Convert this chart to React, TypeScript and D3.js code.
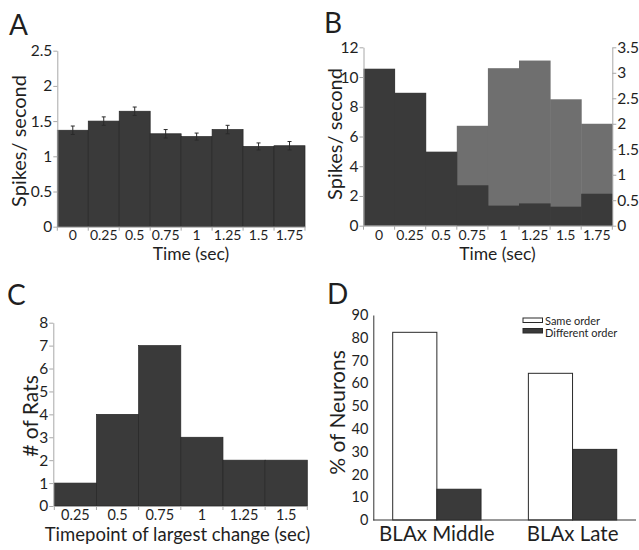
import React, { useEffect, useRef } from 'react';
import * as d3 from 'd3';

// panel A: mean firing rate per time bin
const timeBins = ['0', '0.25', '0.5', '0.75', '1', '1.25', '1.5', '1.75'];
const rateA = [1.37, 1.5, 1.64, 1.32, 1.28, 1.38, 1.14, 1.15];
const errA = [0.06, 0.06, 0.06, 0.06, 0.05, 0.06, 0.05, 0.06];

// panel B: two neurons, left axis (dark) and right axis (light)
const rateBLeft = [10.56, 8.94, 4.98, 2.72, 1.35, 1.5, 1.28, 2.15];
const rateBRight: (number | null)[] = [null, null, null, 1.96, 3.09, 3.24, 2.48, 2.0];

// panel C: histogram of timepoints
const changeBins = ['0.25', '0.5', '0.75', '1', '1.25', '1.5'];
const ratCounts = [1, 4, 7, 3, 2, 2];

// panel D: percent of neurons
const groupsD = ['BLAx Middle', 'BLAx Late'];
const seriesD = ['Same order', 'Different order'];
const sameOrder = [82.4, 64.4];
const diffOrder = [13.5, 31.0];

const FONT = 'Lato, "Open Sans", sans-serif';
const DARK = '#3a3a3a';
const LIGHT = '#6f6f6f';
const INK = '#1f1f1f';
const GRID = '#a8a8a8';

function styleAxis(g: any, lineColor: string, size: number) {
  g.select('.domain').attr('stroke', lineColor);
  g.selectAll('.tick line').attr('stroke', lineColor);
  g.selectAll('.tick text').attr('fill', INK).style('font-size', size + 'px').style('font-family', FONT);
}

function bandTicks(g: any, x: any, bins: string[], y0: number, color: string) {
  const pos = bins.map(b => x(b)).concat([x(bins[bins.length - 1]) + x.bandwidth()]);
  g.append('g').selectAll('line').data(pos).enter().append('line')
    .attr('x1', d => d).attr('x2', d => d)
    .attr('y1', y0).attr('y2', y0 + 4)
    .attr('stroke', color);
}

function label(svg: any, text: string, x: number, y: number, size: number, rotate = false, anchor = 'middle') {
  svg.append('text')
    .attr('transform', `translate(${x},${y})` + (rotate ? ' rotate(-90)' : ''))
    .attr('text-anchor', anchor)
    .attr('fill', INK)
    .style('font-family', FONT)
    .style('font-size', size + 'px')
    .text(text);
}

function drawA(svg: any) {
  const left = 57.3, right = 305, top = 50.7, bottom = 226.7;
  const x = d3.scaleBand().domain(timeBins).range([left, right]);
  const y = d3.scaleLinear().domain([0, 2.5]).range([bottom, top]);
  const g = svg.append('g');

  g.append('g').selectAll('rect').data(rateA).enter().append('rect')
    .attr('x', (d, i) => x(timeBins[i]))
    .attr('width', x.bandwidth())
    .attr('y', d => y(d))
    .attr('height', d => bottom - y(d))
    .attr('fill', DARK)
    .attr('stroke', '#262626')
    .attr('stroke-width', 0.7);

  // error bars
  const eb = g.append('g').selectAll('g').data(rateA).enter().append('g')
    .attr('stroke', '#2a2a2a').attr('stroke-width', 1);
  eb.append('line')
    .attr('x1', (d, i) => x(timeBins[i]) + x.bandwidth() / 2)
    .attr('x2', (d, i) => x(timeBins[i]) + x.bandwidth() / 2)
    .attr('y1', (d, i) => y(d - errA[i]))
    .attr('y2', (d, i) => y(d + errA[i]));
  eb.append('line')
    .attr('x1', (d, i) => x(timeBins[i]) + x.bandwidth() / 2 - 2)
    .attr('x2', (d, i) => x(timeBins[i]) + x.bandwidth() / 2 + 2)
    .attr('y1', (d, i) => y(d + errA[i]))
    .attr('y2', (d, i) => y(d + errA[i]));
  eb.append('line')
    .attr('x1', (d, i) => x(timeBins[i]) + x.bandwidth() / 2 - 2)
    .attr('x2', (d, i) => x(timeBins[i]) + x.bandwidth() / 2 + 2)
    .attr('y1', (d, i) => y(d - errA[i]))
    .attr('y2', (d, i) => y(d - errA[i]));

  const ya = g.append('g').attr('transform', `translate(${left},0)`)
    .call(d3.axisLeft(y).tickValues([0, 0.5, 1, 1.5, 2, 2.5]).tickFormat(d => String(d)).tickSize(4).tickSizeOuter(0).tickPadding(1));
  styleAxis(ya, GRID, 15.5);

  const xa = g.append('g').attr('transform', `translate(0,${bottom})`)
    .call(d3.axisBottom(x).tickSize(0).tickPadding(3.5));
  styleAxis(xa, GRID, 14);
  bandTicks(g, x, timeBins, bottom, GRID);

  label(svg, 'Time (sec)', 191, 260, 17.5);
  label(svg, 'Spikes/ second', 26, 141, 20, true);
  label(svg, 'A', 9, 35, 28, false, 'start');
}

function drawB(svg: any) {
  const left = 363.5, right = 612.3, top = 47.3, bottom = 225.7;
  const x = d3.scaleBand().domain(timeBins).range([left, right]);
  const yL = d3.scaleLinear().domain([0, 12]).range([bottom, top]);
  const yR = d3.scaleLinear().domain([0, 3.5]).range([bottom, top]);
  const g = svg.append('g');

  const lightData = rateBRight.map((v, i) => ({ v, bin: timeBins[i] })).filter(d => d.v !== null);
  g.append('g').selectAll('rect').data(lightData).enter().append('rect')
    .attr('x', d => x(d.bin))
    .attr('width', x.bandwidth() + 0.5)
    .attr('y', d => yR(d.v))
    .attr('height', d => bottom - yR(d.v))
    .attr('fill', LIGHT);

  g.append('g').selectAll('rect').data(rateBLeft).enter().append('rect')
    .attr('x', (d, i) => x(timeBins[i]))
    .attr('width', x.bandwidth() + 0.5)
    .attr('y', d => yL(d))
    .attr('height', d => bottom - yL(d))
    .attr('fill', DARK);

  const ya = g.append('g').attr('transform', `translate(${left},0)`)
    .call(d3.axisLeft(yL).tickValues([0, 2, 4, 6, 8, 10, 12]).tickSize(4).tickSizeOuter(0).tickPadding(1));
  styleAxis(ya, GRID, 15.5);
  const yr = g.append('g').attr('transform', `translate(${right},0)`)
    .call(d3.axisRight(yR).tickValues([0, 0.5, 1, 1.5, 2, 2.5, 3, 3.5]).tickFormat(d => String(d)).tickSize(4).tickSizeOuter(0).tickPadding(1));
  styleAxis(yr, GRID, 15.5);

  const xa = g.append('g').attr('transform', `translate(0,${bottom})`)
    .call(d3.axisBottom(x).tickSize(0).tickPadding(4));
  styleAxis(xa, GRID, 14);
  bandTicks(g, x, timeBins, bottom, GRID);

  label(svg, 'Time (sec)', 497.5, 260, 17.5);
  label(svg, 'Spikes/ second', 342, 134, 20, true);
  label(svg, 'B', 324, 33, 28, false, 'start');
}

function drawC(svg: any) {
  const left = 53.3, right = 307.3, top = 322.7, bottom = 506;
  const x = d3.scaleBand().domain(changeBins).range([left + 1, right]);
  const y = d3.scaleLinear().domain([0, 8]).range([bottom, top]);
  const g = svg.append('g');

  g.append('g').selectAll('rect').data(ratCounts).enter().append('rect')
    .attr('x', (d, i) => x(changeBins[i]))
    .attr('width', x.bandwidth())
    .attr('y', d => y(d))
    .attr('height', d => bottom - y(d))
    .attr('fill', DARK)
    .attr('stroke', '#262626')
    .attr('stroke-width', 0.7);

  const ya = g.append('g').attr('transform', `translate(${left},0)`)
    .call(d3.axisLeft(y).tickValues(d3.range(0, 9)).tickSize(4).tickSizeOuter(0).tickPadding(1));
  styleAxis(ya, GRID, 15.5);

  const xa = g.append('g').attr('transform', `translate(0,${bottom})`)
    .call(d3.axisBottom(x).tickSize(0).tickPadding(4));
  styleAxis(xa, GRID, 14.5);
  bandTicks(g, x, changeBins, bottom, GRID);

  label(svg, 'Timepoint of largest change (sec)', 177.5, 541, 18.5);
  label(svg, '# of Rats', 37.5, 416, 21, true);
  label(svg, 'C', 7, 305, 28, false, 'start');
}

function drawD(svg: any) {
  const left = 373.3, right = 636, top = 315, bottom = 520;
  const x0 = d3.scaleBand().domain(groupsD).range([392.7, 616.7]).paddingInner(0.349).paddingOuter(0);
  const y = d3.scaleLinear().domain([0, 90]).range([bottom, top]);
  const g = svg.append('g');
  const values = [sameOrder, diffOrder];
  const fills = ['#ffffff', DARK];

  const x1 = d3.scaleBand().domain(seriesD).range([0, x0.bandwidth()]);
  groupsD.forEach((grp, gi) => {
    seriesD.forEach((s, si) => {
      const v = values[si][gi];
      g.append('rect')
        .attr('x', x0(grp) + x1(s))
        .attr('width', x1.bandwidth())
        .attr('y', y(v))
        .attr('height', bottom - y(v))
        .attr('fill', fills[si])
        .attr('stroke', '#2a2a2a')
        .attr('stroke-width', 1);
    });
  });

  const ya = g.append('g').attr('transform', `translate(${left},0)`)
    .call(d3.axisLeft(y).tickValues(d3.range(0, 91, 10)).tickSize(0).tickPadding(5));
  styleAxis(ya, '#333', 14.5);
  g.append('line').attr('x1', left).attr('x2', right).attr('y1', bottom).attr('y2', bottom).attr('stroke', '#333');

  const xa = g.append('g').attr('transform', `translate(0,${bottom})`)
    .call(d3.axisBottom(x0).tickSize(0).tickPadding(6.5));
  xa.select('.domain').remove();
  styleAxis(xa, '#333', 20.5);

  // legend
  const lg = g.append('g');
  seriesD.forEach((s, i) => {
    lg.append('rect').attr('x', 523).attr('y', 318 + i * 10.5).attr('width', 19.5).attr('height', 4.5)
      .attr('fill', fills[i]).attr('stroke', '#2a2a2a').attr('stroke-width', 1);
    lg.append('text').attr('x', 545).attr('y', 324.5 + i * 12).attr('fill', INK)
      .style('font-family', FONT).style('font-size', '11px').text(s);
  });

  label(svg, '% of Neurons', 345, 412.5, 21, true);
  label(svg, 'D', 327, 304, 28, false, 'start');
}

export default function App() {
  const ref = useRef<SVGSVGElement>(null);
  useEffect(() => {
    const svg = d3.select(ref.current);
    svg.selectAll('*').remove();
    svg.append('rect').attr('width', 639).attr('height', 550).attr('fill', '#fff');
    drawA(svg);
    drawB(svg);
    drawC(svg);
    drawD(svg);
  }, []);
  return (
    <svg ref={ref} width={639} height={550} style={{ position: 'absolute', left: 0, top: 0 }} />
  );
}
